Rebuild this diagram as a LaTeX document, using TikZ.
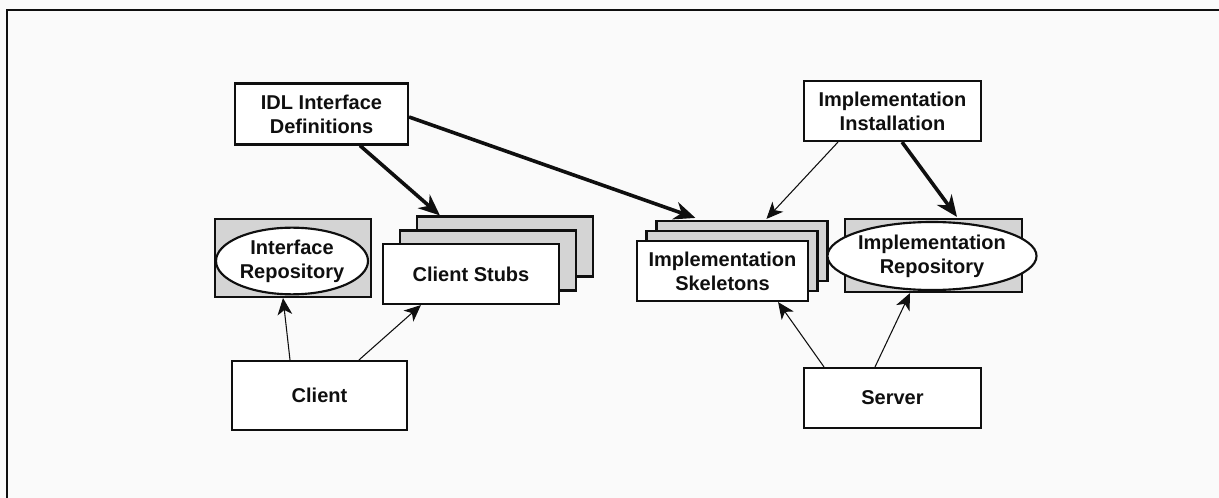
\documentclass[tikz,border=0pt]{standalone}
\usepackage{fontspec}
\setmainfont{Liberation Sans}
\usetikzlibrary{arrows.meta,shapes.geometric,calc}
\definecolor{paper}{RGB}{250,250,250}
\definecolor{shade}{RGB}{212,212,212}
\definecolor{ink}{RGB}{15,15,15}
\tikzset{
  lbl/.style={font=\fontsize{15}{18}\selectfont\bfseries, align=center, text=ink},
  box/.style={lbl, draw=ink, line width=1.6pt, fill=white, inner sep=0pt},
  backbox/.style={draw=ink, line width=1.6pt, fill=shade, inner sep=0pt},
  oval/.style={lbl, ellipse, draw=ink, line width=1.6pt, fill=white, inner sep=0pt},
  heavy/.style={draw=ink, line width=2.7pt, -{Stealth[length=16pt,width=13.5pt,inset=5pt]}},
  light/.style={draw=ink, line width=0.8pt, -{Stealth[length=12.5pt,width=11pt,inset=3.5pt]}},
}
\begin{document}
\begin{tikzpicture}[x=0.75pt,y=-0.75pt]
  \useasboundingbox (0,0) rectangle (1219,498);
  \fill[paper] (0,0) rectangle (1219,498);
  % outer frame (only top and left edges fall inside the page)
  \draw[ink, line width=2.2pt] (7,498) -- (7,10) -- (1219,10);

  % top row
  \node[box, minimum width=129.75pt, minimum height=45.75pt] (idl) at (321.5,114)
    {IDL Interface\\Definitions};
  \node[box, minimum width=132.75pt, minimum height=45pt] (inst) at (892.5,111)
    {Implementation\\Installation};

  % interface repository
  \node[backbox, minimum width=117pt, minimum height=58.5pt] (ir) at (293,258) {};
  \node[oval, minimum width=114pt, minimum height=50pt] (iroval) at (292,261)
    {Interface\\Repository};

  % client stubs (stack of three)
  \node[backbox, minimum width=132pt, minimum height=45pt] (stubs3) at (505,246.5) {};
  \node[backbox, minimum width=132pt, minimum height=45pt] (stubs2) at (488,260.5) {};
  \node[box, minimum width=132pt, minimum height=45pt] (stubs1) at (471,274) {Client Stubs};

  % implementation skeletons (stack of three)
  \node[backbox, minimum width=128.25pt, minimum height=45pt] (skel3) at (742,251) {};
  \node[backbox, minimum width=128.25pt, minimum height=45pt] (skel2) at (732,261) {};
  \node[box, minimum width=128.25pt, minimum height=45pt] (skel1) at (722.5,271)
    {Implementation\\Skeletons};

  % implementation repository
  \node[backbox, minimum width=132.75pt, minimum height=54.75pt] (irepo) at (933.5,255.5) {};
  \node[oval, minimum width=128pt, minimum height=51pt] (irepooval) at (932,256)
    {Implementation\\Repository};

  % bottom row
  \node[box, minimum width=131.25pt, minimum height=51.75pt] (client) at (319.5,395.5) {Client};
  \node[box, minimum width=132.75pt, minimum height=45pt] (server) at (892.5,398) {Server};

  % connectors
  \draw[heavy] ($(idl.south)+(38.5,0)$) -- ($(stubs3.north west)+(24,0)$);
  \draw[heavy] ($(idl.east)+(0,3)$) -- ($(skel3.north west)+(40,-2)$);
  \draw[light] ($(inst.south)+(-54.5,0)$) -- ($(skel3.north west)+(111,-1)$);
  \draw[heavy] ($(inst.south)+(9.5,0)$) -- ($(irepo.north)+(23.5,-1)$);
  \draw[light] ($(client.north)+(-29.5,0)$) -- ($(ir.south)+(-10,0)$);
  \draw[light] ($(client.north)+(39.5,0)$) -- ($(stubs1.south west)+(39,0)$);
  \draw[light] ($(server.north)+(-68.5,0)$) -- ($(skel1.south east)+(-31,0)$);
  \draw[light] ($(server.north)+(-17.5,0)$) -- ($(irepo.south)+(-23.5,0)$);
\end{tikzpicture}
\end{document}
